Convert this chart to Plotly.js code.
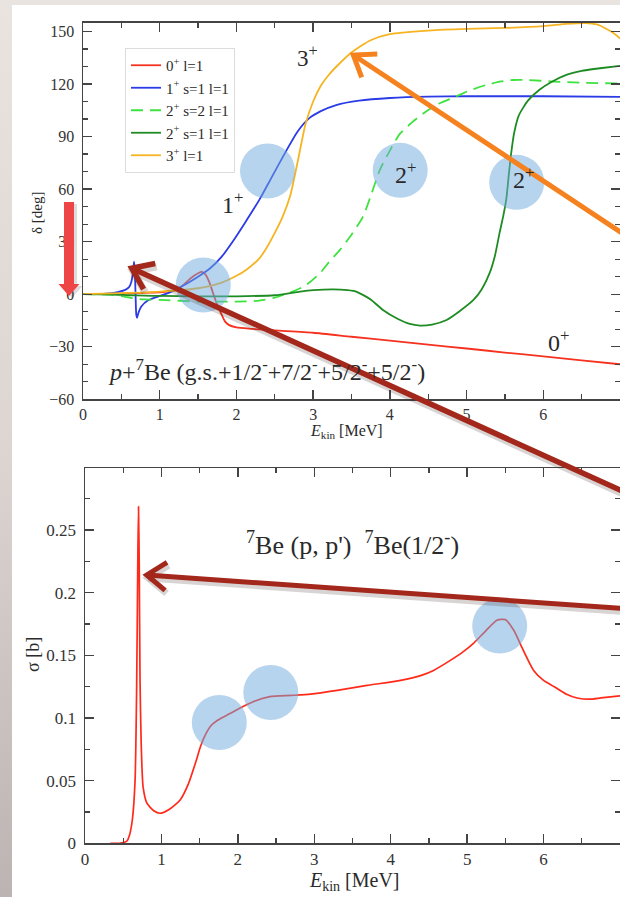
<!DOCTYPE html>
<html>
<head>
<meta charset="utf-8">
<script src="https://cdn.plot.ly/plotly-3.0.1.min.js"></script>
<style>
  html, body { margin: 0; padding: 0; }
  body {
    width: 620px; height: 897px; overflow: hidden; position: relative;
    background: linear-gradient(to bottom, #e9e4e0 0%, #dcd5d2 50%, #bcb4b2 100%);
  }
  #card { position: absolute; left: 12px; top: 5px; right: 0; bottom: 0; background: #ffffff; }
  #chart { position: absolute; left: 0; top: 0; width: 620px; height: 897px; }
</style>
</head>
<body>
<div id="card"></div>
<div id="chart"></div>
<script>
// ---- phase shifts delta [deg] vs E_kin [MeV], p + 7Be ----
const e0p = [0, 0.3, 0.6, 0.8, 1.0, 1.1, 1.2, 1.3, 1.4, 1.5, 1.55, 1.6, 1.65, 1.7, 1.75, 1.8, 1.85, 1.9, 2.0, 2.2, 2.5, 3.0, 3.5, 4.0, 4.5, 5.0, 5.5, 6.0, 6.5, 7.0];
const d0p = [0, 0.2, 0.5, 0.8, 1.0, 1.5, 2.2, 5, 9, 12, 12.8, 11, 6.5, 0, -6, -11, -15.5, -17.5, -19, -19.8, -20.7, -22, -24.3, -26.5, -28.8, -31, -33.3, -35.5, -37.8, -40];

const e1p = [0, 0.3, 0.45, 0.55, 0.6, 0.63, 0.65, 0.665, 0.675, 0.685, 0.695, 0.705, 0.72, 0.76, 0.85, 1.0, 1.1, 1.2, 1.35, 1.5, 1.65, 1.8, 1.95, 2.1, 2.3, 2.45, 2.6, 2.8, 2.95, 3.1, 3.3, 3.6, 4.0, 4.5, 5.0, 6.0, 7.0];
const d1p = [0, 0.3, 1.2, 2.5, 4, 7, 12, 18.6, 14, 0, -12, -13.5, -11, -7, -3.5, -1, 0.5, 2.5, 6, 10, 14.5, 21, 30, 40, 54, 66, 78, 93, 100.5, 104.5, 108, 110.5, 112, 112.8, 113, 113, 112.7];

const e2pS2 = [0, 0.4, 0.55, 0.65, 0.8, 1.0, 1.5, 2.0, 2.26, 2.5, 2.7, 2.83, 2.91, 3.09, 3.2, 3.35, 3.5, 3.65, 3.75, 3.87, 4.0, 4.13, 4.3, 4.43, 4.6, 4.87, 5.05, 5.26, 5.45, 5.61, 5.8, 6.13, 6.5, 7.0];
const d2pS2 = [0, -0.3, -1.5, -2.3, -3, -3.2, -4.2, -4.2, -3.8, -2, 1, 3.4, 5.3, 12, 18, 25.3, 34, 44.3, 56, 71, 82, 91.5, 98.5, 103, 108, 113, 116.5, 119.5, 121.5, 122.3, 122.3, 121.4, 120.7, 120.3];

const e2pS1 = [0, 0.4, 0.6, 0.8, 1.0, 1.5, 2.0, 2.5, 2.83, 3.0, 3.26, 3.45, 3.56, 3.75, 3.91, 4.1, 4.26, 4.39, 4.55, 4.74, 4.9, 5.09, 5.2, 5.3, 5.37, 5.43, 5.48, 5.52, 5.55, 5.58, 5.62, 5.68, 5.8, 5.95, 6.1, 6.3, 6.5, 6.74, 7.0];
const d2pS1 = [0, -0.2, -0.6, -0.8, -1.0, -1.2, -1.2, -0.6, 1.5, 2.3, 2.8, 2.3, 1.5, -3, -9, -14, -17, -17.9, -17.3, -14.7, -10, -3.3, 3, 12, 22, 35, 45, 55, 68, 80, 92, 102, 110.5, 116.7, 121, 125.2, 127.5, 129, 130.4];

const e3p = [0, 0.5, 1.0, 1.5, 1.8, 2.0, 2.13, 2.3, 2.4, 2.5, 2.6, 2.7, 2.8, 2.9, 3.0, 3.1, 3.2, 3.35, 3.5, 3.75, 4.0, 4.5, 5.0, 5.5, 6.0, 6.3, 6.55, 6.7, 6.8, 6.9, 7.0];
const d3p = [0, 0.6, 1.5, 3.4, 6.5, 10.5, 14, 20.5, 27, 35, 44, 56, 76, 97, 110, 119, 125, 132, 138, 145, 148.5, 150.5, 151.5, 152, 153, 154.3, 154.8, 154, 152, 149.5, 146];

// ---- cross section sigma [b] for 7Be(p,p')7Be(1/2-) ----
const eSig = [0.33, 0.45, 0.55, 0.58, 0.62, 0.655, 0.675, 0.69, 0.70, 0.71, 0.72, 0.735, 0.76, 0.81, 0.9, 0.98, 1.1, 1.245, 1.35, 1.45, 1.51, 1.57, 1.65, 1.73, 1.85, 2.03, 2.2, 2.42, 2.7, 2.95, 3.3, 3.69, 4.13, 4.4, 4.56, 4.78, 4.95, 5.09, 5.25, 5.39, 5.5, 5.61, 5.72, 5.87, 6.0, 6.14, 6.3, 6.44, 6.6, 6.75, 7.0];
const sig  = [0, 0, 0.002, 0.006, 0.019, 0.05, 0.12, 0.22, 0.2687, 0.22, 0.13, 0.08, 0.045, 0.032, 0.026, 0.024, 0.027, 0.0346, 0.047, 0.065, 0.077, 0.086, 0.094, 0.098, 0.102, 0.108, 0.113, 0.117, 0.118, 0.119, 0.122, 0.126, 0.130, 0.134, 0.138, 0.146, 0.153, 0.160, 0.170, 0.178, 0.1785, 0.170, 0.156, 0.138, 0.130, 0.125, 0.119, 0.116, 0.115, 0.116, 0.1176];

const seriesNames = ['0<sup>+</sup> l=1', '1<sup>+</sup> s=1 l=1', '2<sup>+</sup> s=2 l=1', '2<sup>+</sup> s=1 l=1', '3<sup>+</sup> l=1'];

// ---- page geometry (pixels) ----
const W = 620, H = 897;
const X = px => px / W;
const Y = py => 1 - py / H;
const SERIF = 'Liberation Serif';
const INK = '#2a2a2a';

function phase(x, y, i, color, dash) {
  return {
    x: x, y: y, name: seriesNames[i], legendgroup: 'g' + i,
    type: 'scatter', mode: 'lines', xaxis: 'x', yaxis: 'y',
    line: { color: color, width: 1.8, dash: dash || 'solid', shape: 'spline', smoothing: 0.6 }
  };
}

const traces = [
  phase(e0p, d0p, 0, '#f5311f'),
  phase(e1p, d1p, 1, '#2b3ce6'),
  phase(e2pS2, d2pS2, 2, '#3ee23e', '12px,7px'),
  phase(e2pS1, d2pS1, 3, '#1e8c22'),
  phase(e3p, d3p, 4, '#f6b423'),
  {
    x: eSig, y: sig, type: 'scatter', mode: 'lines', xaxis: 'x2', yaxis: 'y2',
    showlegend: false, line: { color: '#ff2a1a', width: 1.7, shape: 'spline', smoothing: 0.6 }
  }
];

function axisStyle(extra) {
  return Object.assign({
    showline: true, linecolor: '#444', linewidth: 1.5, mirror: 'ticks',
    ticks: 'inside', ticklen: 9, tickwidth: 1.3, tickcolor: '#444',
    showgrid: false, zeroline: false,
    tickfont: { family: SERIF, size: 16, color: '#333' }
  }, extra);
}
const minorX = { ticks: 'inside', ticklen: 5, dtick: 0.5, tickcolor: '#444', tickwidth: 1.2 };

const layout = {
  width: W, height: H,
  font: { family: SERIF, color: '#333', size: 16 },
  margin: { l: 0, r: 0, t: 0, b: 0, pad: 0 },
  paper_bgcolor: 'rgba(0,0,0,0)', plot_bgcolor: 'rgba(0,0,0,0)',
  xaxis: axisStyle({ domain: [X(83), 1], range: [0, 7], dtick: 1, tick0: 0, anchor: 'y',
    ticklabelstandoff: 0, minor: minorX }),
  yaxis: axisStyle({ domain: [Y(399.3), Y(22.7)], range: [-60, 155], dtick: 30, tick0: 0, anchor: 'x',
    ticklabelstandoff: 4,
    minor: { ticks: 'inside', ticklen: 5, dtick: 10, tickcolor: '#444', tickwidth: 1.2 } }),
  xaxis2: axisStyle({ domain: [X(85), 1], range: [0, 7], dtick: 1, tick0: 0, anchor: 'y2',
    ticklabelstandoff: 0, tickfont: { family: SERIF, size: 17, color: '#333' }, minor: minorX }),
  yaxis2: axisStyle({ domain: [Y(843.3), Y(468.3)], range: [0, 0.2993], dtick: 0.05, tick0: 0, anchor: 'x2',
    ticklabelstandoff: 4, tickfont: { family: SERIF, size: 17, color: '#333' },
    minor: { ticks: 'inside', ticklen: 5, dtick: 0.025, tickcolor: '#444', tickwidth: 1.2 } }),
  showlegend: true,
  legend: {
    x: X(125), y: Y(48), xanchor: 'left', yanchor: 'top',
    bgcolor: '#ffffff', bordercolor: '#dcdcdc', borderwidth: 1,
    font: { family: SERIF, size: 15, color: INK },
    tracegroupgap: 0, traceorder: 'normal'
  },
  shapes: [],
  annotations: []
};

// ---- text labels ----
function label(text, px, py, size, opts) {
  layout.annotations.push(Object.assign({
    text: text, xref: 'paper', yref: 'paper', x: X(px), y: Y(py),
    xanchor: 'center', yanchor: 'middle', showarrow: false,
    font: { family: SERIF, size: size, color: INK }
  }, opts || {}));
}
label('δ [deg]', 37, 213, 15, { textangle: -90 });
label('<i>E</i><sub>kin</sub> [MeV]', 346, 431, 16);
label('σ [b]', 33, 655, 18, { textangle: -90 });
label('<i>E</i><sub>kin</sub> [MeV]', 354, 881, 20);
label('3<sup>+</sup>', 307, 57, 23);
label('1<sup>+</sup>', 232, 203, 24);
label('2<sup>+</sup>', 406, 173, 24);
label('2<sup>+</sup>', 523, 178, 24);
label('0<sup>+</sup>', 558, 341, 24);
label('<i>p</i>+<sup>7</sup>Be (g.s.+1/2<sup>-</sup>+7/2<sup>-</sup>+5/2<sup>-</sup>+5/2<sup>-</sup>)', 106, 370, 24, { xanchor: 'left' });
label('<sup>7</sup>Be (p, p\')  <sup>7</sup>Be(1/2<sup>-</sup>)', 244, 543, 26, { xanchor: 'left' });

// ---- highlight discs ----
const discs = [[267.5, 171], [203.3, 285], [400.2, 170.3], [516.7, 182.3], [219.3, 722.5], [270.8, 692.5], [499.7, 626]];
const R = 27.5;
discs.forEach(([cx, cy]) => {
  layout.shapes.push({
    type: 'circle', xref: 'paper', yref: 'paper', layer: 'above',
    x0: X(cx - R), x1: X(cx + R), y0: Y(cy + R), y1: Y(cy - R),
    fillcolor: 'rgba(112,170,222,0.5)', line: { width: 0 }
  });
});

// ---- pointer arrows ----
function pathOf(pts, close) {
  return pts.map((p, i) => (i ? 'L' : 'M') + X(p[0]).toFixed(5) + ',' + Y(p[1]).toFixed(5)).join(' ') + (close ? ' Z' : '');
}
function arrow(from, tip, color, width, withShadow) {
  const dx = from[0] - tip[0], dy = from[1] - tip[1];
  const len = Math.hypot(dx, dy), ux = dx / len, uy = dy / len;
  const headLen = 24, ang = 36 * Math.PI / 180;
  const rot = a => [tip[0] + headLen * (ux * Math.cos(a) - uy * Math.sin(a)),
                    tip[1] + headLen * (ux * Math.sin(a) + uy * Math.cos(a))];
  const a1 = rot(ang), a2 = rot(-ang);
  const parts = [[from, tip], [a1, tip, a2]];
  if (withShadow) {
    parts.forEach(p => layout.shapes.push({
      type: 'path', xref: 'paper', yref: 'paper', layer: 'above',
      path: pathOf(p.map(q => [q[0] + 1.5, q[1] + 3])),
      line: { color: 'rgba(60,40,40,0.2)', width: width + 2 }
    }));
  }
  parts.forEach(p => layout.shapes.push({
    type: 'path', xref: 'paper', yref: 'paper', layer: 'above',
    path: pathOf(p), line: { color: color, width: width }
  }));
}
arrow([622, 233], [353.3, 55], '#f5821f', 5, false);
arrow([622, 491], [131.7, 268.3], '#a3271a', 5.5, true);
arrow([622, 608.5], [146.7, 575], '#a3271a', 5, true);

// fat downward marker beside the delta axis
const down = [[64, 202], [74, 202], [74, 284], [79.5, 284], [69, 296], [58.5, 284], [64, 284]];
layout.shapes.push({
  type: 'path', xref: 'paper', yref: 'paper', layer: 'above',
  path: pathOf(down.map(p => [p[0] + 3, p[1] + 2]), true),
  fillcolor: 'rgba(80,60,60,0.18)', line: { width: 0 }
});
layout.shapes.push({
  type: 'path', xref: 'paper', yref: 'paper', layer: 'above',
  path: pathOf(down, true), fillcolor: '#ee4646', line: { width: 0 }
});

Plotly.newPlot('chart', traces, layout, { staticPlot: true, displayModeBar: false });
</script>
</body>
</html>
